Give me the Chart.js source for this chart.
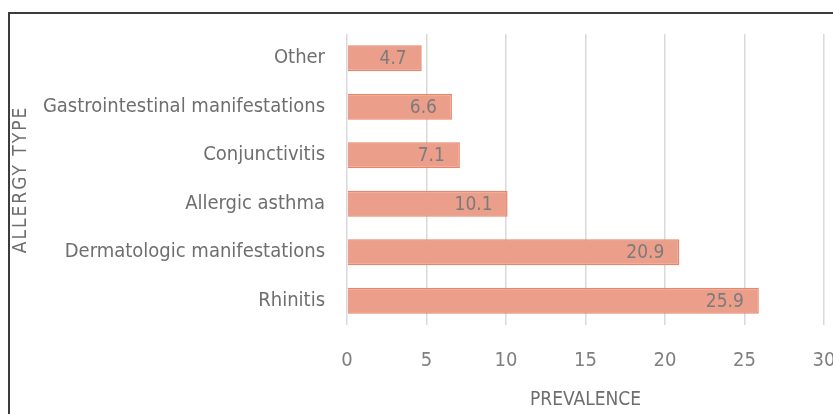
<!DOCTYPE html>
<html>
<head>
<meta charset="utf-8">
<script src="https://cdn.jsdelivr.net/npm/chart.js@4"></script>
<style>
  html, body { margin: 0; padding: 0; overflow: hidden; background: #fff; }
  #wrap { position: relative; width: 860px; height: 414px; }
  #frame { position: absolute; left: 8px; top: 12px; width: 900px; height: 500px;
           border-left: 2px solid #3c3c3c; border-top: 2px solid #3c3c3c; pointer-events: none; }
</style>
</head>
<body>
<div id="wrap">
  <canvas id="myChart" width="860" height="414"></canvas>
  <div id="frame"></div>
</div>
<script>
// data
const categories = ['Other', 'Gastrointestinal manifestations', 'Conjunctivitis',
  'Allergic asthma', 'Dermatologic manifestations', 'Rhinitis'];
const prevalence = [4.7, 6.6, 7.1, 10.1, 20.9, 25.9];
const xTicks = [0, 5, 10, 15, 20, 25, 30];

const FONT = "'DejaVu Sans Condensed', 'DejaVu Sans', sans-serif";

// value labels inside the end of each bar
const barLabels = {
  id: 'barLabels',
  afterDatasetsDraw(chart) {
    const ctx = chart.ctx;
    const meta = chart.getDatasetMeta(0);
    ctx.save();
    ctx.font = '19px ' + FONT;
    ctx.fillStyle = '#7b7b7b';
    ctx.textAlign = 'right';
    ctx.textBaseline = 'middle';
    meta.data.forEach((bar, i) => {
      ctx.fillText(prevalence[i].toFixed(1), bar.x - 15, bar.y + 1);
    });
    ctx.restore();
  }
};

const data = {
  labels: categories,
  datasets: [{
    label: 'Prevalence',
    data: prevalence,
    backgroundColor: '#eb9f8a',
    borderColor: '#e6866b',
    borderWidth: 1.5,
    categoryPercentage: 1,
    barPercentage: 0.54
  }]
};

const config = {
  type: 'bar',
  data,
  options: {
    indexAxis: 'y',
    responsive: false,
    animation: false,
    layout: { padding: { top: 34, right: 36, left: 0, bottom: 0 } },
    plugins: { legend: { display: false }, tooltip: { enabled: false } },
    scales: {
      x: {
        min: 0,
        max: 30,
        afterBuildTicks(scale) { scale.ticks = xTicks.map(v => ({ value: v })); },
        afterFit(scale) { scale.height = 89; },
        grid: { color: '#d9d9d9', lineWidth: 1.5, drawTicks: false },
        border: { display: false },
        ticks: { padding: 24, color: '#7f7f7f', font: { family: FONT, size: 20 } },
        title: {
          display: true, text: 'PREVALENCE', color: '#6e6e6e',
          font: { family: FONT, size: 19 }, padding: { top: 0, bottom: 3 }
        }
      },
      y: {
        afterFit(scale) {
          scale.width = 347;
          // wider letter spacing on the axis title
          if (!scale._spaced) {
            const drawTitle = scale.drawTitle;
            scale.drawTitle = function () {
              this.ctx.save();
              this.ctx.letterSpacing = '2px';
              drawTitle.call(this);
              this.ctx.restore();
            };
            scale._spaced = true;
          }
        },
        grid: { display: false, drawTicks: false },
        border: { display: false },
        ticks: { padding: 22, color: '#6e6e6e', font: { family: FONT, size: 20 } },
        title: {
          display: true, text: 'ALLERGY TYPE', color: '#6e6e6e',
          font: { family: FONT, size: 19 }, padding: { top: 10, bottom: 0 }
        }
      }
    }
  },
  plugins: [barLabels]
};

const myChart = new Chart(document.getElementById('myChart'), config);
</script>
</body>
</html>
